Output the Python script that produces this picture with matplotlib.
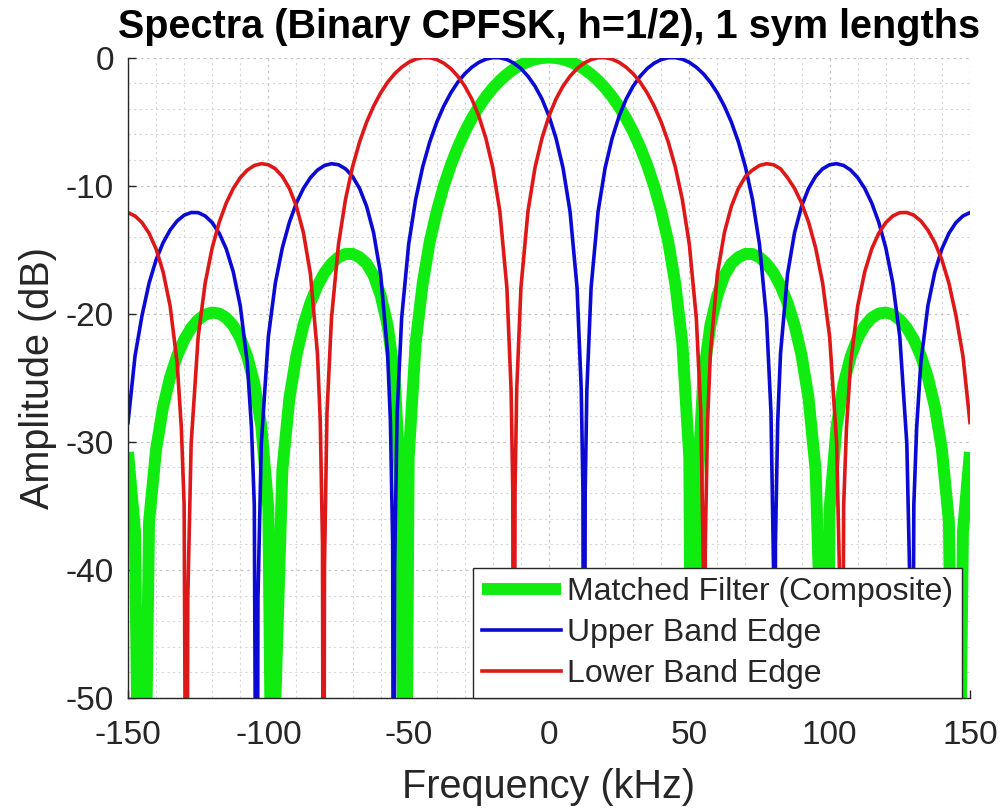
import matplotlib
matplotlib.use("Agg")
import matplotlib.pyplot as plt
from matplotlib.ticker import MultipleLocator

plt.rcParams['font.family'] = ['Liberation Sans', 'DejaVu Sans']
plt.rcParams['axes.unicode_minus'] = False

# frequency (kHz) / level (dB)
# nulls are given as -80 so the line drops out below the axis
green_khz = [-150, -147.5, -145.2, -142.5, -140, -137.5, -135, -132.5, -130, -127.5,
             -125, -122.5, -120, -117.5, -115, -112.5, -110, -107.5, -105, -102.5,
             -100, -97.9, -97.5, -95, -92.5, -90, -87.5, -85, -82.5, -80,
             -77.5, -75, -72.5, -70, -67.5, -65, -62.5, -60, -57.5, -55,
             -52.5, -51.4, -50, -47.5, -45, -42.5, -40, -37.5, -35, -32.5,
             -30, -27.5, -25, -22.5, -20, -17.5, -15, -12.5, -10, -7.5,
             -5, -2.5, 0, 2.5, 5, 7.5, 10, 12.5, 15, 17.5,
             20, 22.5, 25, 27.5, 30, 32.5, 35, 37.5, 40, 42.5,
             45, 47.5, 50, 51.4, 52.5, 55, 57.5, 60, 62.5, 65,
             67.5, 70, 72.5, 75, 77.5, 80, 82.5, 85, 87.5, 90,
             92.5, 95, 97.5, 97.9, 100, 102.5, 105, 107.5, 110, 112.5,
             115, 117.5, 120, 122.5, 125, 127.5, 130, 132.5, 135, 137.5,
             140, 142.5, 145.2, 147.5, 150]
green_db = [-30.8, -37.0, -80, -36.24, -30.60, -27.27, -24.97, -23.29, -22.04, -21.11,
            -20.47, -20.07, -19.91, -19.99, -20.32, -20.94, -21.91, -23.34, -25.46, -28.79,
            -35.19, -80, -50.3, -32.19, -26.62, -23.26, -20.90, -19.15, -17.82, -16.81,
            -16.09, -15.59, -15.34, -15.33, -15.59, -16.08, -17.01, -18.57, -20.90, -24.96,
            -35.26, -80, -31.26, -22.27, -17.65, -14.39, -12.02, -10.05, -8.41, -7.01,
            -5.80, -4.76, -3.85, -3.06, -2.38, -1.80, -1.31, -0.90, -0.57, -0.32,
            -0.14, -0.04, 0.0, -0.04, -0.14, -0.32, -0.57, -0.90, -1.31, -1.80,
            -2.38, -3.06, -3.85, -4.76, -5.80, -7.01, -8.41, -10.05, -12.02, -14.39,
            -17.65, -22.27, -31.26, -80, -35.26, -24.96, -20.90, -18.57, -17.01, -16.08,
            -15.59, -15.33, -15.34, -15.59, -16.09, -16.81, -17.82, -19.15, -20.90, -23.26,
            -26.62, -32.19, -50.3, -80, -35.19, -28.79, -25.46, -23.34, -21.91, -20.94,
            -20.32, -19.99, -19.91, -20.07, -20.47, -21.11, -22.04, -23.29, -24.97, -27.27,
            -30.60, -36.24, -80, -37.0, -30.8]

upper_khz = [-150, -147.5, -145, -142.5, -140, -137.5, -135, -132.5, -130, -127.5,
             -125, -122.5, -120, -117.5, -115, -112.5, -110, -107.5, -106, -105,
             -104.1, -103.7, -102.5, -100, -97.5, -95, -92.5, -90, -87.5, -85,
             -82.5, -80, -77.5, -75, -72.5, -70, -67.5, -65, -62.5, -60,
             -57.5, -56.5, -55.7, -55.3, -55, -54.1, -52.5, -50, -47.5, -45,
             -42.5, -40, -37.5, -35, -32.5, -30, -27.5, -25, -22.5, -20,
             -17.5, -15, -12.5, -10, -7.5, -5, -2.5, 0, 2.5, 5,
             7.5, 10, 11.5, 12.1, 12.5, 12.9, 13.5, 15, 17.5, 20,
             22.5, 25, 27.5, 30, 32.5, 35, 37.5, 40, 42.5, 45,
             47.5, 50, 52.5, 55, 57.5, 60, 62.5, 65, 67.5, 70,
             72.5, 75, 77.5, 79.1, 80, 80.3, 80.7, 81.5, 82.5, 85,
             87.5, 90, 92.5, 95, 97.5, 100, 102.5, 105, 107.5, 110,
             112.5, 115, 117.5, 120, 122.5, 125, 127.5, 128.7, 129.1, 130,
             131, 132.5, 135, 137.5, 140, 142.5, 145, 147.5, 150]
upper_db = [-28.5, -23.3, -20.13, -17.62, -15.80, -14.46, -13.47, -12.76, -12.31, -12.10,
            -12.11, -12.37, -12.89, -13.72, -14.94, -16.73, -19.39, -23.82, -28.9, -34.94,
            -80, -42.2, -30.14, -21.80, -17.60, -14.85, -12.86, -11.36, -10.22, -9.38,
            -8.79, -8.43, -8.29, -8.37, -8.69, -9.28, -10.22, -11.61, -13.67, -16.90,
            -23.11, -28.4, -37.9, -80, -39.8, -27.7, -20.35, -14.58, -11.07, -8.54,
            -6.60, -5.05, -3.80, -2.77, -1.93, -1.27, -0.76, -0.38, -0.13, -0.01,
            -0.02, -0.16, -0.44, -0.86, -1.46, -2.23, -3.24, -4.57, -6.30, -8.62,
            -12.02, -17.97, -25.93, -33.89, -80, -33.89, -25.93, -17.97, -12.02, -8.62,
            -6.30, -4.57, -3.24, -2.23, -1.46, -0.86, -0.44, -0.16, -0.02, -0.01,
            -0.13, -0.38, -0.76, -1.27, -1.93, -2.77, -3.80, -5.05, -6.60, -8.54,
            -11.07, -14.58, -20.35, -27.7, -39.8, -80, -37.9, -28.4, -23.11, -16.90,
            -13.67, -11.61, -10.22, -9.28, -8.69, -8.37, -8.29, -8.43, -8.79, -9.38,
            -10.22, -11.36, -12.86, -14.85, -17.60, -21.80, -30.14, -42.2, -80, -34.94,
            -28.9, -23.82, -19.39, -16.73, -14.94, -13.72, -12.89, -12.37, -12.11]

lower_khz = [-150, -147.5, -145, -142.5, -140, -137.5, -135, -132.5, -131, -130,
             -129.1, -128.7, -127.5, -125, -122.5, -120, -117.5, -115, -112.5, -110,
             -107.5, -105, -102.5, -100, -97.5, -95, -92.5, -90, -87.5, -85,
             -82.5, -81.5, -80.7, -80.3, -80, -79.1, -77.5, -75, -72.5, -70,
             -67.5, -65, -62.5, -60, -57.5, -55, -52.5, -50, -47.5, -45,
             -42.5, -40, -37.5, -35, -32.5, -30, -27.5, -25, -22.5, -20,
             -17.5, -15, -13.5, -12.9, -12.5, -12.1, -11.5, -10, -7.5, -5,
             -2.5, 0, 2.5, 5, 7.5, 10, 12.5, 15, 17.5, 20,
             22.5, 25, 27.5, 30, 32.5, 35, 37.5, 40, 42.5, 45,
             47.5, 50, 52.5, 54.1, 55, 55.3, 55.7, 56.5, 57.5, 60,
             62.5, 65, 67.5, 70, 72.5, 75, 77.5, 80, 82.5, 85,
             87.5, 90, 92.5, 95, 97.5, 100, 102.5, 103.7, 104.1, 105,
             106, 107.5, 110, 112.5, 115, 117.5, 120, 122.5, 125, 127.5,
             130, 132.5, 135, 137.5, 140, 142.5, 145, 147.5, 150]
lower_db = [-12.11, -12.37, -12.89, -13.72, -14.94, -16.73, -19.39, -23.82, -28.9, -34.94,
            -80, -42.2, -30.14, -21.80, -17.60, -14.85, -12.86, -11.36, -10.22, -9.38,
            -8.79, -8.43, -8.29, -8.37, -8.69, -9.28, -10.22, -11.61, -13.67, -16.90,
            -23.11, -28.4, -37.9, -80, -39.8, -27.7, -20.35, -14.58, -11.07, -8.54,
            -6.60, -5.05, -3.80, -2.77, -1.93, -1.27, -0.76, -0.38, -0.13, -0.01,
            -0.02, -0.16, -0.44, -0.86, -1.46, -2.23, -3.24, -4.57, -6.30, -8.62,
            -12.02, -17.97, -25.93, -33.89, -80, -33.89, -25.93, -17.97, -12.02, -8.62,
            -6.30, -4.57, -3.24, -2.23, -1.46, -0.86, -0.44, -0.16, -0.02, -0.01,
            -0.13, -0.38, -0.76, -1.27, -1.93, -2.77, -3.80, -5.05, -6.60, -8.54,
            -11.07, -14.58, -20.35, -27.7, -39.8, -80, -37.9, -28.4, -23.11, -16.90,
            -13.67, -11.61, -10.22, -9.28, -8.79, -8.43, -8.29, -8.37, -8.69, -9.38,
            -10.22, -11.36, -12.86, -14.85, -17.60, -21.80, -30.14, -42.2, -80, -34.94,
            -28.9, -23.82, -19.39, -16.73, -14.94, -13.72, -12.89, -12.37, -12.11, -12.10,
            -12.31, -12.76, -13.47, -14.46, -15.80, -17.62, -20.13, -23.3, -28.5]

labels = ["Matched Filter (Composite)", "Upper Band Edge", "Lower Band Edge"]
x_ticks = [-150, -100, -50, 0, 50, 100, 150]
y_ticks = [-50, -40, -30, -20, -10, 0]

txt = '#262626'

fig = plt.figure(figsize=(10.04, 8.10), dpi=100)
ax = fig.add_axes([0.1275, 0.1383, 0.8386, 0.7907])

ax.plot(green_khz, green_db, color='#10ec10', lw=8.6, solid_joinstyle='round',
        solid_capstyle='butt', label=labels[0])
ax.plot(upper_khz, upper_db, color='#0a0ad2', lw=2.6, solid_joinstyle='round', label=labels[1])
ax.plot(lower_khz, lower_db, color='#dc1818', lw=2.6, solid_joinstyle='round', label=labels[2])

ax.set_xlim(-150, 150)
ax.set_ylim(-50, 0)
ax.set_xticks(x_ticks)
ax.set_yticks(y_ticks)
ax.xaxis.set_minor_locator(MultipleLocator(10))
ax.yaxis.set_minor_locator(MultipleLocator(2))

ax.grid(which='major', color='#c4c4c4', linestyle=(0, (2, 3)), lw=0.9)
ax.grid(which='minor', color='#d6d6d6', linestyle=(0, (2, 3)), lw=0.8)
ax.set_axisbelow(True)

for s in ['top', 'right']:
    ax.spines[s].set_visible(False)
for s in ['left', 'bottom']:
    ax.spines[s].set_color(txt)
    ax.spines[s].set_linewidth(1.0)

ax.tick_params(which='major', direction='in', length=6, width=1, color=txt,
               labelcolor=txt, labelsize=24)
ax.tick_params(axis='x', which='major', pad=16)
ax.tick_params(axis='y', which='major', pad=10)
ax.tick_params(which='minor', length=0)

ax.set_xlabel("Frequency (kHz)", fontsize=28.5, color=txt)
ax.set_ylabel("Amplitude (dB)", fontsize=28.5, color=txt)
ax.xaxis.set_label_coords(0.5, -0.11)
ax.yaxis.set_label_coords(-0.084, 0.5)
ax.set_title("Spectra (Binary CPFSK, h=1/2), 1 sym lengths", fontsize=28.5,
             fontweight='bold', color='black', pad=14)

leg = ax.legend(loc='lower right', bbox_to_anchor=(0.990, 0.0), borderaxespad=0,
                fontsize=23, handlelength=2.48, handletextpad=0.16, borderpad=0.28,
                labelspacing=0.34, fancybox=False, framealpha=1)
leg.get_frame().set_edgecolor(txt)
leg.get_frame().set_linewidth(1.0)
for t in leg.get_texts():
    t.set_color(txt)

fig.savefig("out.png", dpi=100)
